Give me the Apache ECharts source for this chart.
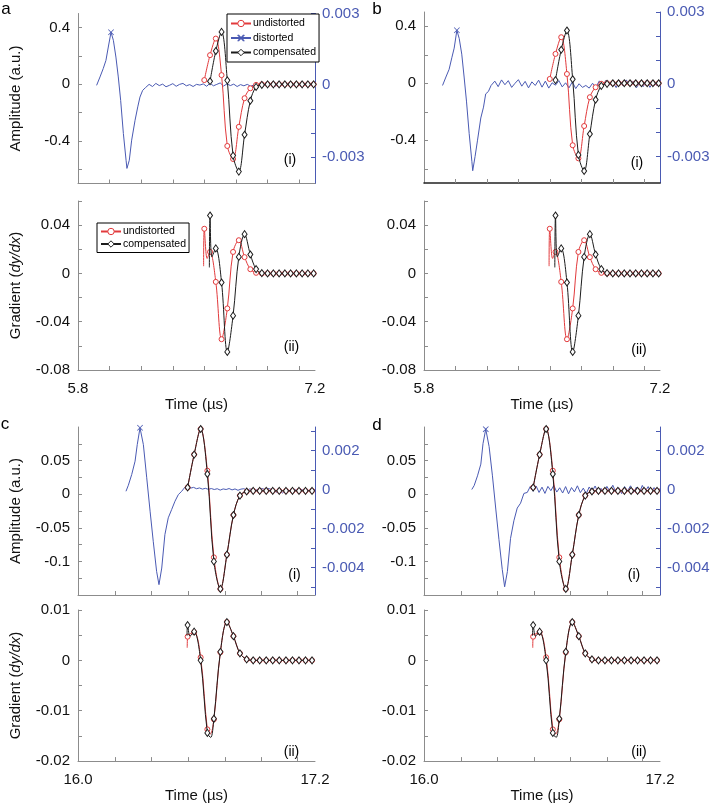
<!DOCTYPE html>
<html><head><meta charset="utf-8">
<script src="https://cdn.jsdelivr.net/npm/echarts@6.0.0/dist/echarts.min.js"></script>
<style>html,body{margin:0;padding:0;background:#fff}#chart{width:714px;height:804px}</style>
</head><body><div id="chart"></div>
<script>
// ---------------- DATA ----------------
// Rows a/b : time axis 5.8 .. 7.2 us
const xRangeAB = [5.8, 7.2];
const xTicksAB = [5.987, 6.173, 6.360, 6.547, 6.733, 6.920, 7.107];
const sampleTimesAB = [6.546, 6.580, 6.614, 6.648, 6.682, 6.716, 6.750, 6.784, 6.818, 6.852,
                       6.886, 6.920, 6.954, 6.988, 7.022, 7.056, 7.090, 7.124, 7.158, 7.192];
const undistortedAmpAB = [0.030, 0.206, 0.323, 0.065, -0.435, -0.527, -0.300, -0.098, -0.028, -0.004,
                          0, 0, 0, 0, 0, 0, 0, 0, 0, 0];
const compensatedAmpAB = [null, 0.022, 0.235, 0.370, 0.028, -0.503, -0.616, -0.356, -0.116, -0.018,
                          -0.004, 0, 0, 0, 0, 0, 0, 0, 0, 0];
const gradTimesUndistAB = [6.542, 6.546, 6.563, 6.580, 6.614, 6.648, 6.682, 6.716, 6.750, 6.784, 6.818,
                           6.852, 6.886, 6.920, 6.954, 6.988, 7.022, 7.056, 7.090, 7.124, 7.158, 7.192];
const gradUndistAB = [0.006, 0.037, 0.0124, 0.0178, -0.0070, -0.0545, -0.0290, 0.0178, 0.0275, 0.0135, 0.0035,
                      0.0005, 0, 0, 0, 0, 0, 0, 0, 0, 0, 0];
const gradTimesCompAB = [6.576, 6.580, 6.591, 6.614, 6.648, 6.682, 6.716, 6.750, 6.784, 6.818, 6.852,
                         6.886, 6.920, 6.954, 6.988, 7.022, 7.056, 7.090, 7.124, 7.158, 7.192];
const gradCompAB = [0.005, 0.048, 0.0137, 0.0207, -0.0075, -0.0650, -0.0350, 0.0137, 0.0325, 0.0157, 0.0036,
                    0.0003, 0, 0, 0, 0, 0, 0, 0, 0, 0];
const blueTimesAB = [5.910, 5.930, 5.949, 5.965, 5.979, 5.995, 6.009, 6.024, 6.038, 6.052,
                     6.068, 6.084, 6.089, 6.103, 6.117, 6.137, 6.153, 6.166, 6.182, 6.198,
                     6.22, 6.24, 6.26, 6.28, 6.30, 6.32, 6.34, 6.36, 6.38, 6.40,
                     6.42, 6.44, 6.46, 6.48, 6.50, 6.52, 6.54, 6.56, 6.58, 6.60,
                     6.62, 6.64, 6.66, 6.68, 6.70, 6.72, 6.74, 6.76, 6.78, 6.80,
                     6.82, 6.84, 6.86, 6.88, 6.90, 6.92, 6.94, 6.96, 6.98, 7.00,
                     7.02, 7.04, 7.06, 7.08, 7.10, 7.12, 7.14, 7.16, 7.18, 7.20];
const distortedA = [0.00000, 0.00035, 0.00070, 0.00104, 0.00160, 0.00222, 0.00188, 0.00118, 0.00035, -0.00063,
                    -0.00201, -0.00313, -0.00347, -0.00313, -0.00229, -0.00146, -0.00090, -0.00049, -0.00021, -0.00010,
                    0.00004, -0.00005, 0.00008, -0.00001, 0.00005, -0.00006, 0.00000, 0.00007, -0.00004, 0.00004,
                    0.00008, -0.00002, 0.00003, -0.00005, 0.00004, 0.00001, 0.00006, -0.00004, 0.00009, -0.00002,
                    0.00004, 0.00010, -0.00003, 0.00006, -0.00001, 0.00005, -0.00005, 0.00003, -0.00002, 0.00004,
                    -0.00004, 0.00002, 0.00005, -0.00004, 0.00003, -0.00001, 0.00004, -0.00005, 0.00002, 0.00005,
                    -0.00004, 0.00004, -0.00001, 0.00002, 0.00005, -0.00005, 0.00003, -0.00002, 0.00002, 0.00000];
const distortedB = [-0.00005, 0.00030, 0.00062, 0.00110, 0.00150, 0.00224, 0.00190, 0.00125, 0.00030, -0.00070,
                    -0.00205, -0.00320, -0.00359, -0.00300, -0.00235, -0.00140, -0.00095, -0.00040, -0.00030, -0.00005,
                    0.00013, -0.00010, 0.00018, -0.00002, 0.00015, -0.00013, 0.00004, 0.00019, -0.00008, 0.00012,
                    -0.00015, 0.00010, -0.00005, 0.00017, -0.00012, 0.00013, -0.00016, 0.00006, -0.00004, 0.00015,
                    -0.00011, 0.00006, -0.00015, 0.00010, -0.00018, 0.00002, -0.00013, -0.00005, -0.00016, 0.00004,
                    -0.00012, 0.00014, -0.00008, 0.00017, -0.00003, 0.00009, -0.00014, 0.00015, -0.00006, 0.00018,
                    -0.00006, 0.00012, -0.00015, 0.00008, -0.00010, 0.00017, -0.00013, 0.00008, -0.00005, 0.00003];

// Rows c/d : time axis 16.0 .. 17.2 us
const xRangeCD = [16.0, 17.2];
const xTicksCD = [16.187, 16.373, 16.559, 16.744, 16.930, 17.110];
const sampleTimesCD = [16.555, 16.588, 16.621, 16.655, 16.688, 16.721, 16.754, 16.787, 16.820, 16.854,
                       16.887, 16.920, 16.953, 16.986, 17.019, 17.053, 17.086, 17.119, 17.152, 17.185];
const undistortedAmpCD = [0.010, 0.059, 0.097, 0.035, -0.094, -0.141, -0.090, -0.031, -0.002, 0.004,
                          0.005, 0.005, 0.005, 0.005, 0.005, 0.005, 0.005, 0.005, 0.005, 0.005];
const compensatedAmpCD = [0.010, 0.059, 0.097, 0.030, -0.100, -0.141, -0.090, -0.031, -0.002, 0.004,
                          0.005, 0.005, 0.005, 0.005, 0.005, 0.005, 0.005, 0.005, 0.005, 0.005];
const gradTimesUndistCD = [16.553, 16.555, 16.588, 16.621, 16.655, 16.670, 16.688, 16.721, 16.754, 16.787, 16.820,
                           16.854, 16.887, 16.920, 16.953, 16.986, 17.019, 17.053, 17.086, 17.119, 17.152, 17.185];
const gradUndistCD = [0.0025, 0.0047, 0.0056, 0.0006, -0.0137, -0.0146, -0.0117, 0.0016, 0.0076, 0.0048, 0.0014,
                      0.0002, 0, 0, 0, 0, 0, 0, 0, 0, 0, 0];
const gradTimesCompCD = [16.552, 16.555, 16.567, 16.588, 16.621, 16.655, 16.672, 16.688, 16.721, 16.754, 16.787,
                         16.820, 16.854, 16.887, 16.920, 16.953, 16.986, 17.019, 17.053, 17.086, 17.119, 17.152, 17.185];
const gradCompCD = [0.0049, 0.0070, 0.0048, 0.0057, 0.0000, -0.0144, -0.0153, -0.0116, 0.0017, 0.0076, 0.0048,
                    0.0014, 0.0002, 0, 0, 0, 0, 0, 0, 0, 0, 0, 0];
const blueTimesCD = [16.243, 16.255, 16.272, 16.289, 16.300, 16.314, 16.331, 16.348, 16.365, 16.381,
                     16.398, 16.410, 16.424, 16.440, 16.457, 16.474, 16.491, 16.508, 16.525,
                     16.540, 16.555, 16.570, 16.585, 16.600, 16.615, 16.630, 16.645, 16.660, 16.675,
                     16.690, 16.705, 16.720, 16.735, 16.750, 16.765, 16.780, 16.795, 16.810, 16.825,
                     16.840, 16.855, 16.870, 16.885, 16.900, 16.915, 16.930, 16.945, 16.960, 16.975,
                     16.990, 17.005, 17.020, 17.035, 17.050, 17.065, 17.080, 17.095, 17.110, 17.125,
                     17.140, 17.155, 17.170, 17.185, 17.200];
const distortedC = [-0.00009, 0.00022, 0.00077, 0.00145, 0.00230, 0.00316, 0.00230, 0.00060, -0.00111, -0.00265,
                    -0.00419, -0.00487, -0.00402, -0.00231, -0.00145, -0.00103, -0.00060, -0.00026, -0.00009,
                    0.00010, 0.00014, 0.00007, 0.00011, 0.00004, 0.00008, 0.00002, 0.00006, 0.00001, 0.00005,
                    0.00000, 0.00004, -0.00003, 0.00003, 0.00000, 0.00005, -0.00002, 0.00003, -0.00004, 0.00002,
                    0.00004, -0.00003, 0.00003, 0.00000, -0.00004, 0.00003, 0.00005, 0.00001, 0.00006, 0.00002,
                    -0.00005, -0.00014, -0.00008, -0.00018, -0.00007, -0.00003, -0.00011, 0.00000, -0.00005, 0.00003,
                    -0.00004, 0.00002, -0.00006, 0.00001, -0.00003];
const distortedD = [0.00000, 0.00020, 0.00070, 0.00130, 0.00235, 0.00309, 0.00220, 0.00070, -0.00100, -0.00255,
                    -0.00410, -0.00498, -0.00420, -0.00250, -0.00160, -0.00095, -0.00070, -0.00020, -0.00015,
                    0.00015, -0.00009, 0.00018, -0.00015, 0.00012, -0.00020, 0.00016, -0.00006, 0.00021, -0.00013,
                    0.00009, -0.00018, 0.00015, -0.00022, 0.00010, -0.00012, 0.00019, -0.00016, 0.00007, -0.00021,
                    0.00013, -0.00009, 0.00018, -0.00015, 0.00006, -0.00019, 0.00016, -0.00010, 0.00022, -0.00013,
                    0.00009, -0.00021, 0.00015, -0.00007, 0.00019, -0.00016, 0.00012, -0.00018, 0.00021, -0.00009,
                    0.00015, -0.00019, 0.00010, -0.00013, 0.00006];

// Axis ranges / ticks / labels
const ampRangeAB = [-0.7, 0.5], ampTicksAB = [-0.6, -0.4, -0.2, 0, 0.2, 0.4], ampLabelsAB = [-0.4, 0, 0.4];
const rightRangeAB = [-0.0041, 0.003], rightTicksAB = [-0.003, -0.002, -0.001, 0, 0.001, 0.002, 0.003], rightLabelsAB = [-0.003, 0, 0.003];
const gradRangeAB = [-0.08, 0.06], gradTicksAB = [-0.08, -0.06, -0.04, -0.02, 0, 0.02, 0.04, 0.06], gradLabelsAB = [-0.08, -0.04, 0, 0.04];
const ampRangeCD = [-0.15, 0.1], ampTicksCD = [-0.125, -0.1, -0.075, -0.05, -0.025, 0, 0.025, 0.05, 0.075], ampLabelsCD = [-0.1, -0.05, 0, 0.05];
const rightRangeCD = [-0.0054, 0.0032], rightTicksCD = [-0.005, -0.004, -0.003, -0.002, -0.001, 0, 0.001, 0.002, 0.003], rightLabelsCD = [-0.004, -0.002, 0, 0.002];
const gradRangeCD = [-0.02, 0.01], gradTicksCD = [-0.02, -0.015, -0.01, -0.005, 0, 0.005, 0.01], gradLabelsCD = [-0.02, -0.01, 0, 0.01];

const seriesNames = ['undistorted', 'distorted', 'compensated'];

// ---------------- STYLE ----------------
const FONT = 'Arial, "Liberation Sans", Helvetica, sans-serif';
const RED = '#e23a3c', BLUE = '#4a5ab3', BLACK = '#1c1c1c', AXIS = '#8c8c8c', TXT = '#111';
const XPATH = 'path://M0.9,0L5,4.1L9.1,0L10,0.9L5.9,5L10,9.1L9.1,10L5,5.9L0.9,10L0,9.1L4.1,5L0,0.9Z';
const STY = {
  red:   { color: RED,   fill: '#fff', symbol: 'circle',  size: 5,      bw: 1,   z: 3, smooth: 0.35 },
  black: { color: BLACK, fill: '#fff', symbol: 'diamond', size: [5, 7], bw: 1,   z: 4, smooth: 0.35 },
  blue:  { color: BLUE,  fill: BLUE,   symbol: XPATH,     size: 6,      bw: 0,   z: 2, smooth: false }
};
const fmt = v => String(+(+v).toFixed(6));

const rows = {
  AB: { xRange: xRangeAB, xTicks: xTicksAB, samples: sampleTimesAB,
        red: undistortedAmpAB, black: compensatedAmpAB,
        gRedT: gradTimesUndistAB, gRed: gradUndistAB, gBlackT: gradTimesCompAB, gBlack: gradCompAB,
        blueT: blueTimesAB,
        amp: [ampRangeAB, ampTicksAB, ampLabelsAB], right: [rightRangeAB, rightTicksAB, rightLabelsAB],
        grad: [gradRangeAB, gradTicksAB, gradLabelsAB] },
  CD: { xRange: xRangeCD, xTicks: xTicksCD, samples: sampleTimesCD,
        red: undistortedAmpCD, black: compensatedAmpCD,
        gRedT: gradTimesUndistCD, gRed: gradUndistCD, gBlackT: gradTimesCompCD, gBlack: gradCompCD,
        blueT: blueTimesCD,
        amp: [ampRangeCD, ampTicksCD, ampLabelsCD], right: [rightRangeCD, rightTicksCD, rightLabelsCD],
        grad: [gradRangeCD, gradTicksCD, gradLabelsCD] }
};

const panels = [
  { row: 'AB', blue: distortedA, names: true,  dark: false,
    g1: { left: 78,  top: 13.5, width: 237, height: 170 }, g2: { left: 78,  top: 201, width: 237, height: 169 } },
  { row: 'AB', blue: distortedB, names: false, dark: true,
    g1: { left: 424, top: 12,   width: 236, height: 171 }, g2: { left: 424, top: 201, width: 236, height: 169 } },
  { row: 'CD', blue: distortedC, names: true,  dark: false,
    g1: { left: 78,  top: 427,  width: 237, height: 168 }, g2: { left: 78,  top: 610, width: 237, height: 168 } },
  { row: 'CD', blue: distortedD, names: false, dark: false,
    g1: { left: 424, top: 427,  width: 236, height: 168 }, g2: { left: 424, top: 610, width: 236, height: 168 } }
];

const labelFont = { fontSize: 15, fontFamily: FONT, color: TXT };

function xAxis(gi, R, labeled, dark) {
  return {
    type: 'value', gridIndex: gi, min: R.xRange[0], max: R.xRange[1],
    axisLine: { show: true, onZero: false, lineStyle: { color: dark ? '#222' : AXIS, width: dark ? 1.6 : 1 } },
    axisTick: { show: true, inside: true, length: 4, customValues: R.xTicks, lineStyle: { color: AXIS } },
    axisLabel: Object.assign({ show: labeled, customValues: R.xRange, margin: 11, formatter: v => (+v).toFixed(1) }, labelFont),
    splitLine: { show: false },
    name: labeled ? 'Time (µs)' : '', nameLocation: 'middle', nameGap: 11,
    nameTextStyle: Object.assign({}, labelFont)
  };
}
function leftAxis(gi, spec, name) {
  return {
    type: 'value', gridIndex: gi, position: 'left', min: spec[0][0], max: spec[0][1],
    axisLine: { show: true, onZero: false, lineStyle: { color: AXIS } },
    axisTick: { show: true, inside: true, length: 4, customValues: spec[1], lineStyle: { color: AXIS } },
    axisLabel: Object.assign({ customValues: spec[2], formatter: fmt, margin: 8 }, labelFont),
    splitLine: { show: false },
    name: name, nameLocation: 'middle', nameGap: 55,
    nameTextStyle: Object.assign({ rich: { it: { fontStyle: 'italic', fontSize: 15, fontFamily: FONT, color: TXT } } }, labelFont)
  };
}
function rightAxis(gi, spec) {
  return {
    type: 'value', gridIndex: gi, position: 'right', min: spec[0][0], max: spec[0][1],
    axisLine: { show: true, onZero: false, lineStyle: { color: BLUE } },
    axisTick: { show: true, inside: true, length: 4, customValues: spec[1], lineStyle: { color: BLUE } },
    axisLabel: { customValues: spec[2], formatter: fmt, margin: 7, fontSize: 15, fontFamily: FONT, color: BLUE },
    splitLine: { show: false }
  };
}
function curve(name, kind, xi, yi, times, values, markTimes) {
  const s = STY[kind];
  return {
    type: 'line', name: name, xAxisIndex: xi, yAxisIndex: yi, z: s.z,
    smooth: s.smooth, symbol: s.symbol, symbolSize: s.size, showAllSymbol: true,
    lineStyle: { color: s.color, width: 1 },
    itemStyle: { color: s.fill, borderColor: s.color, borderWidth: s.bw },
    emphasis: { disabled: true }, silent: true,
    data: times.map((t, i) => {
      const item = { value: [t, values[i]] };
      if (!markTimes.includes(t)) item.symbol = 'none';
      return item;
    })
  };
}

const option = { animation: false, backgroundColor: '#fff', grid: [], xAxis: [], yAxis: [], series: [] };

panels.forEach(p => {
  const R = rows[p.row];
  const gi = option.grid.length;
  option.grid.push(p.g1, p.g2);
  option.xAxis.push(xAxis(gi, R, false, p.dark), xAxis(gi + 1, R, true, false));
  const yi = option.yAxis.length;
  option.yAxis.push(
    leftAxis(gi, R.amp, p.names ? 'Amplitude (a.u.)' : ''),
    rightAxis(gi, R.right),
    leftAxis(gi + 1, R.grad, p.names ? 'Gradient ({it|dy/dx})' : '')
  );
  const peakT = R.blueT[p.blue.indexOf(Math.max.apply(null, p.blue))];
  option.series.push(
    curve(seriesNames[0], 'red', gi, yi, R.samples, R.red, R.samples),
    curve(seriesNames[1], 'blue', gi, yi + 1, R.blueT, p.blue, [peakT]),
    curve(seriesNames[2], 'black', gi, yi, R.samples, R.black, R.samples),
    curve(seriesNames[0], 'red', gi + 1, yi + 2, R.gRedT, R.gRed, R.samples),
    curve(seriesNames[2], 'black', gi + 1, yi + 2, R.gBlackT, R.gBlack, R.samples)
  );
});

const legendBase = {
  orient: 'vertical', itemWidth: 20, itemHeight: 8, selectedMode: false,
  borderColor: '#000', borderWidth: 1, backgroundColor: '#fff', borderRadius: 0,
  itemStyle: { borderWidth: 1 },
  textStyle: { fontSize: 10.5, fontFamily: FONT, color: '#000', padding: [0, 0, 0, -3] }
};
option.legend = [
  Object.assign({}, legendBase, { data: seriesNames, left: 227, top: 14, itemGap: 3.5, padding: [4, 3, 4, 3] }),
  Object.assign({}, legendBase, { data: [seriesNames[0], seriesNames[2]], left: 97, top: 223, itemGap: 1.5, padding: [3, 3, 3, 3] })
];

function txt(text, x, y, size) {
  return { type: 'text', x: x, y: y, silent: true,
           style: { text: text, fontSize: size, fontFamily: FONT, fill: '#000', align: 'center', verticalAlign: 'middle' } };
}
option.graphic = [
  txt('a', 6, 9, 17), txt('b', 377, 9, 17), txt('c', 5, 424, 17), txt('d', 377, 425, 17),
  txt('(i)', 290, 160.5, 14), txt('(i)', 637, 163, 14), txt('(i)', 294.5, 575.5, 14), txt('(i)', 634, 575.5, 14),
  txt('(ii)', 291.5, 347.5, 14), txt('(ii)', 639, 350, 14), txt('(ii)', 291.5, 752.5, 14), txt('(ii)', 639, 752.5, 14)
];

const chart = echarts.init(document.getElementById('chart'), null, { renderer: 'canvas' });
chart.setOption(option);
</script></body></html>
